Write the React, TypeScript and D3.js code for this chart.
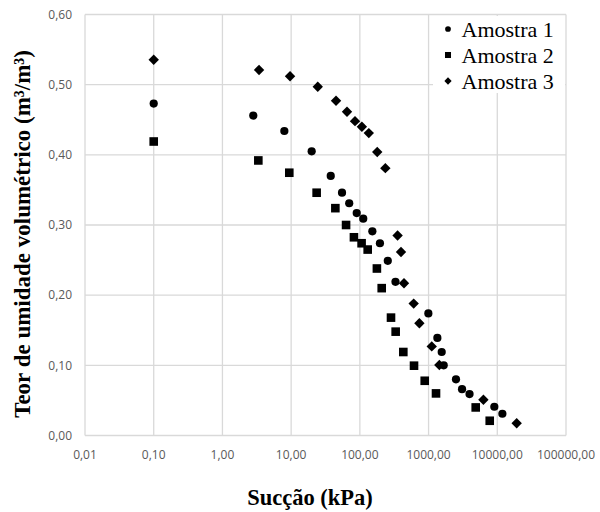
import React from "react";
import * as d3 from "d3";

const amostra1X = [0.1, 2.81, 7.96, 19.9, 37.7, 55, 70, 90, 112, 152, 196, 255, 330, 993, 1343, 1553, 1660, 2506, 3070, 3945, 9057, 11860];
const amostra1Y = [0.473, 0.456, 0.434, 0.405, 0.37, 0.346, 0.331, 0.317, 0.309, 0.291, 0.274, 0.249, 0.219, 0.174, 0.139, 0.119, 0.1, 0.08, 0.066, 0.059, 0.041, 0.031];

const amostra2X = [0.1, 3.33, 9.4, 23.5, 44, 63, 82, 106, 130, 177, 208, 284, 332, 429, 614, 879, 1283, 4853, 7763];
const amostra2Y = [0.419, 0.392, 0.3745, 0.346, 0.324, 0.3, 0.2825, 0.274, 0.265, 0.238, 0.21, 0.168, 0.148, 0.119, 0.0995, 0.078, 0.06, 0.04, 0.021];

const amostra3X = [0.1, 3.41, 9.64, 24.4, 45, 65, 85, 107, 135, 179, 235, 354, 397, 439, 607, 735, 1112, 1435, 6280, 19150];
const amostra3Y = [0.5356, 0.521, 0.512, 0.497, 0.477, 0.4615, 0.448, 0.44, 0.431, 0.404, 0.381, 0.285, 0.2615, 0.217, 0.188, 0.16, 0.127, 0.1005, 0.051, 0.0174];

const xTicks = [0.01, 0.1, 1, 10, 100, 1000, 10000, 100000];
const yTicks = [0, 0.1, 0.2, 0.3, 0.4, 0.5, 0.6];
const seriesNames = ["Amostra 1", "Amostra 2", "Amostra 3"];

const W = 600;
const H = 512;
const left = 85;
const right = 566;
const top = 14.5;
const bottom = 435.5;

const x = d3.scaleLog().domain([0.01, 100000]).range([left, right]);
const y = d3.scaleLinear().domain([0, 0.6]).range([bottom, top]);

const fmt = (v: number) => v.toFixed(2).replace(".", ",");

const grid = "#d9d9d9";
const tickColor = "#595959";
const serif = "'Liberation Serif', 'Times New Roman', serif";

function Marker({ kind, cx, cy, s = 1 }: { kind: number; cx: number; cy: number; s?: number }) {
  if (kind === 0) return <circle cx={cx} cy={cy} r={4.1 * s} fill="#000" />;
  if (kind === 1) {
    const h = 4.3 * s;
    return <rect x={cx - h} y={cy - h} width={2 * h} height={2 * h} fill="#000" />;
  }
  const d = 5.2 * s;
  return <path d={`M${cx},${cy - d}L${cx + d},${cy}L${cx},${cy + d}L${cx - d},${cy}Z`} fill="#000" />;
}

export default function App() {
  const series = [
    { xs: amostra1X, ys: amostra1Y },
    { xs: amostra2X, ys: amostra2Y },
    { xs: amostra3X, ys: amostra3Y },
  ];
  return (
    <svg width={W} height={H} style={{ position: "absolute", left: 0, top: 0, background: "#fff" }}>
      <rect x={0} y={0} width={W} height={H} fill="#fff" />
      {yTicks.map((t) => (
        <line key={"gy" + t} x1={left} x2={right} y1={y(t)} y2={y(t)} stroke={grid} strokeWidth={1.3} />
      ))}
      {xTicks.map((t) => (
        <line key={"gx" + t} x1={x(t)} x2={x(t)} y1={top} y2={bottom} stroke={grid} strokeWidth={1.3} />
      ))}
      {yTicks.map((t) => (
        <text key={"ty" + t} x={72} y={y(t)} dy="0.35em" textAnchor="end" fontFamily="'Open Sans', sans-serif" fontSize={12} fill={tickColor}>
          {fmt(t)}
        </text>
      ))}
      {xTicks.map((t) => (
        <text key={"tx" + t} x={x(t)} y={455} dy="0.35em" textAnchor="middle" fontFamily="'Open Sans', sans-serif" fontSize={12} fill={tickColor}>
          {fmt(t)}
        </text>
      ))}
      {series.map((s, i) =>
        s.xs.map((xv, j) => <Marker key={`m${i}-${j}`} kind={i} cx={x(xv)} cy={y(s.ys[j])} />)
      )}
      <rect x={433} y={16} width={132} height={77} fill="#fff" />
      {seriesNames.map((n, i) => (
        <g key={n}>
          <Marker kind={i} cx={448} cy={29 + i * 26} s={0.7} />
          <text x={461.5} y={29 + i * 26} dy="0.35em" fontFamily={serif} fontSize={22} fill="#000">
            {n}
          </text>
        </g>
      ))}
      <text
        transform={`translate(22,234) rotate(-90)`}
        textAnchor="middle"
        dy="0.35em"
        fontFamily={serif}
        fontWeight="bold"
        fontSize={23}
        fill="#000"
      >
        Teor de umidade volumétrico (m³/m³)
      </text>
      <text x={310} y={497} dy="0.35em" textAnchor="middle" fontFamily={serif} fontWeight="bold" fontSize={22.5} fill="#000">
        Sucção (kPa)
      </text>
    </svg>
  );
}
